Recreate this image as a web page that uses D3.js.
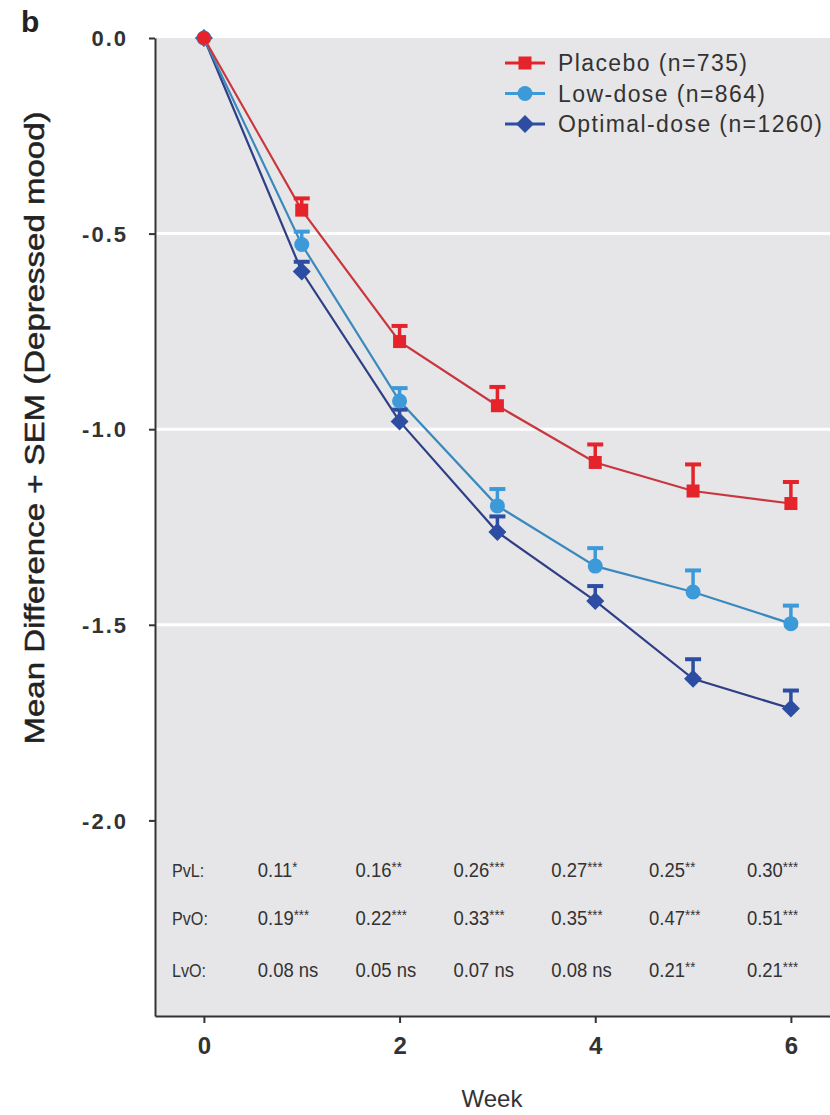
<!DOCTYPE html>
<html>
<head>
<meta charset="utf-8">
<script src="https://cdn.jsdelivr.net/npm/d3@7"></script>
<style>
  body { margin: 0; background: #fff; }
  text { font-family: "Liberation Sans", Arial, sans-serif; }
</style>
</head>
<body>
<div id="chart"></div>
<script>
// data
var weeks = [0, 1, 2, 3, 4, 5, 6];
var placeboMean = [0, -0.44, -0.776, -0.94, -1.085, -1.158, -1.19];
var placeboSem = [0, 0.03, 0.04, 0.048, 0.046, 0.068, 0.055];
var lowMean = [0, -0.528, -0.928, -1.196, -1.35, -1.416, -1.497];
var lowSem = [0, 0.033, 0.033, 0.043, 0.046, 0.055, 0.046];
var optimalMean = [0, -0.597, -0.98, -1.263, -1.439, -1.638, -1.714];
var optimalSem = [0, 0.025, 0.03, 0.04, 0.038, 0.05, 0.046];

var seriesNames = ["Placebo (n=735)", "Low-dose (n=864)", "Optimal-dose (n=1260)"];
var yTicks = [0, -0.5, -1.0, -1.5, -2.0];
var xTicks = [0, 2, 4, 6];

// p-value table
var tableWeeks = [1, 2, 3, 4, 5, 6];
var tableRows = ["PvL:", "PvO:", "LvO:"];
var pvlVals = ["0.11|*", "0.16|**", "0.26|***", "0.27|***", "0.25|**", "0.30|***"];
var pvoVals = ["0.19|***", "0.22|***", "0.33|***", "0.35|***", "0.47|***", "0.51|***"];
var lvoVals = ["0.08 ns|", "0.05 ns|", "0.07 ns|", "0.08 ns|", "0.21|**", "0.21|***"];

var svgWidth = 830;
var svgHeight = 1115;

var margin = { top: 38, left: 155 };
var height = 1016 - margin.top;
var width = 7 * 97.83;

var svg = d3.select("#chart")
  .append("svg")
  .attr("width", svgWidth)
  .attr("height", svgHeight);

var chartGroup = svg.append("g")
  .attr("transform", `translate(${margin.left}, ${margin.top})`);

var xScale = d3.scaleLinear().domain([-0.5, 6.5]).range([0, width]);
var yScale = d3.scaleLinear().domain([-2.5, 0]).range([height, 0]);

// panel
chartGroup.append("rect")
  .attr("x", 0).attr("y", 0)
  .attr("width", width).attr("height", height)
  .attr("fill", "#e6e6e8");

// white gridlines
chartGroup.selectAll(".grid")
  .data([-0.5, -1.0, -1.5])
  .enter()
  .append("line")
  .attr("x1", 0).attr("x2", width)
  .attr("y1", d => yScale(d)).attr("y2", d => yScale(d))
  .attr("stroke", "#fff")
  .attr("stroke-width", 3);

// axes
var leftAxis = d3.axisLeft(yScale).tickValues(yTicks).tickFormat(d => d3.format(".1f")(d).replace("−", "-"))
  .tickSizeInner(6).tickSizeOuter(0).tickPadding(21);
var bottomAxis = d3.axisBottom(xScale).tickValues(xTicks).tickFormat(d3.format("d"))
  .tickSizeInner(7).tickSizeOuter(0).tickPadding(14);

var yAxisG = chartGroup.append("g").call(leftAxis);
var xAxisG = chartGroup.append("g").attr("transform", `translate(0, ${height})`).call(bottomAxis);

[yAxisG, xAxisG].forEach(function(g) {
  g.select(".domain").attr("stroke", "#333").attr("stroke-width", 2);
  g.selectAll(".tick line").attr("stroke", "#333").attr("stroke-width", 2);
  g.selectAll(".tick text")
    .attr("fill", "#333")
    .attr("font-family", "Liberation Sans, Arial, sans-serif")
    .attr("font-weight", "bold");
});
yAxisG.selectAll(".tick text").attr("font-size", "22px").attr("letter-spacing", "2px").attr("dy", "0.35em");
xAxisG.selectAll(".tick text").attr("font-size", "24px");

// series
var series = [
  { name: seriesNames[2], mean: optimalMean, sem: optimalSem, color: "#2d4da3", line: "#2e3f86", shape: "diamond" },
  { name: seriesNames[1], mean: lowMean, sem: lowSem, color: "#3c9ad8", line: "#3a89bd", shape: "circle" },
  { name: seriesNames[0], mean: placeboMean, sem: placeboSem, color: "#e5232b", line: "#c9363d", shape: "square" }
];

var lineGen = d3.line()
  .x((d, i) => xScale(weeks[i]))
  .y(d => yScale(d));

function drawMarker(g, shape, color) {
  if (shape === "square") {
    g.append("rect").attr("x", -6.5).attr("y", -6.5).attr("width", 13).attr("height", 13).attr("fill", color);
  } else if (shape === "circle") {
    g.append("circle").attr("r", 7.5).attr("fill", color);
  } else {
    g.append("path").attr("d", "M0,-9L9,0L0,9L-9,0Z").attr("fill", color);
  }
}

series.forEach(function(s) {
  chartGroup.append("path")
    .datum(s.mean)
    .attr("d", lineGen)
    .attr("fill", "none")
    .attr("stroke", s.line)
    .attr("stroke-width", 2.2);
});

series.forEach(function(s) {
  var pts = chartGroup.selectAll(null)
    .data(weeks.slice(1))
    .enter()
    .append("g");
  // error bars (upper only)
  pts.append("line")
    .attr("x1", d => xScale(d)).attr("x2", d => xScale(d))
    .attr("y1", d => yScale(s.mean[d]))
    .attr("y2", d => yScale(s.mean[d] + s.sem[d]))
    .attr("stroke", s.color).attr("stroke-width", 3.5);
  pts.append("line")
    .attr("x1", d => xScale(d) - 8).attr("x2", d => xScale(d) + 8)
    .attr("y1", d => yScale(s.mean[d] + s.sem[d]))
    .attr("y2", d => yScale(s.mean[d] + s.sem[d]))
    .attr("stroke", s.color).attr("stroke-width", 4);
});

series.forEach(function(s) {
  weeks.forEach(function(w, i) {
    var g = chartGroup.append("g")
      .attr("transform", `translate(${xScale(w)}, ${yScale(s.mean[i])})`);
    if (w === 0 && s.shape === "square") {
      g.append("circle").attr("r", 7).attr("fill", s.color);
    } else {
      drawMarker(g, s.shape, s.color);
    }
  });
});

// legend
var legend = svg.append("g").attr("transform", "translate(505, 63)");
[series[2], series[1], series[0]].forEach(function(s, i) {
  var row = legend.append("g").attr("transform", `translate(0, ${i * 30.5})`);
  row.append("line").attr("x1", 0).attr("x2", 40).attr("y1", 0).attr("y2", 0)
    .attr("stroke", s.color).attr("stroke-width", 3);
  var m = row.append("g").attr("transform", "translate(20, 0)");
  drawMarker(m, s.shape, s.color);
  row.append("text")
    .attr("x", 53).attr("y", 0).attr("dy", "0.36em")
    .attr("font-size", "23px").attr("letter-spacing", "1.4px").attr("fill", "#333")
    .text(s.name);
});

// p-value table
var tableData = [pvlVals, pvoVals, lvoVals];
var rowY = [870, 918, 970];
tableRows.forEach(function(lbl, r) {
  svg.append("text")
    .attr("transform", `translate(172, ${rowY[r]}) scale(0.85, 1)`)
    .attr("dy", "0.35em")
    .attr("font-size", "19px").attr("fill", "#333")
    .text(lbl);
  tableWeeks.forEach(function(w, c) {
    var parts = tableData[r][c].split("|");
    var t = svg.append("text")
      .attr("transform", `translate(${margin.left + xScale(w) - 44}, ${rowY[r]}) scale(0.88, 1)`)
      .attr("dy", "0.35em")
      .attr("font-size", "21px").attr("fill", "#333");
    t.append("tspan").text(parts[0]);
    if (parts[1]) {
      t.append("tspan").attr("font-size", "15px").attr("dy", "-5").text(parts[1]);
    }
  });
});

// axis titles
svg.append("text")
  .attr("transform", "translate(44, 428) rotate(-90)")
  .attr("text-anchor", "middle")
  .attr("font-size", "27px")
  .attr("textLength", 633)
  .attr("lengthAdjust", "spacingAndGlyphs")
  .attr("fill", "#222")
  .attr("stroke", "#222")
  .attr("stroke-width", 0.5)
  .text("Mean Difference + SEM (Depressed mood)");

svg.append("text")
  .attr("x", 492).attr("y", 1107)
  .attr("text-anchor", "middle")
  .attr("font-size", "24px")
  .attr("fill", "#333")
  .text("Week");

svg.append("text")
  .attr("x", 21).attr("y", 32)
  .attr("font-size", "30px")
  .attr("font-weight", "bold")
  .attr("fill", "#222")
  .text("b");
</script>
</body>
</html>
